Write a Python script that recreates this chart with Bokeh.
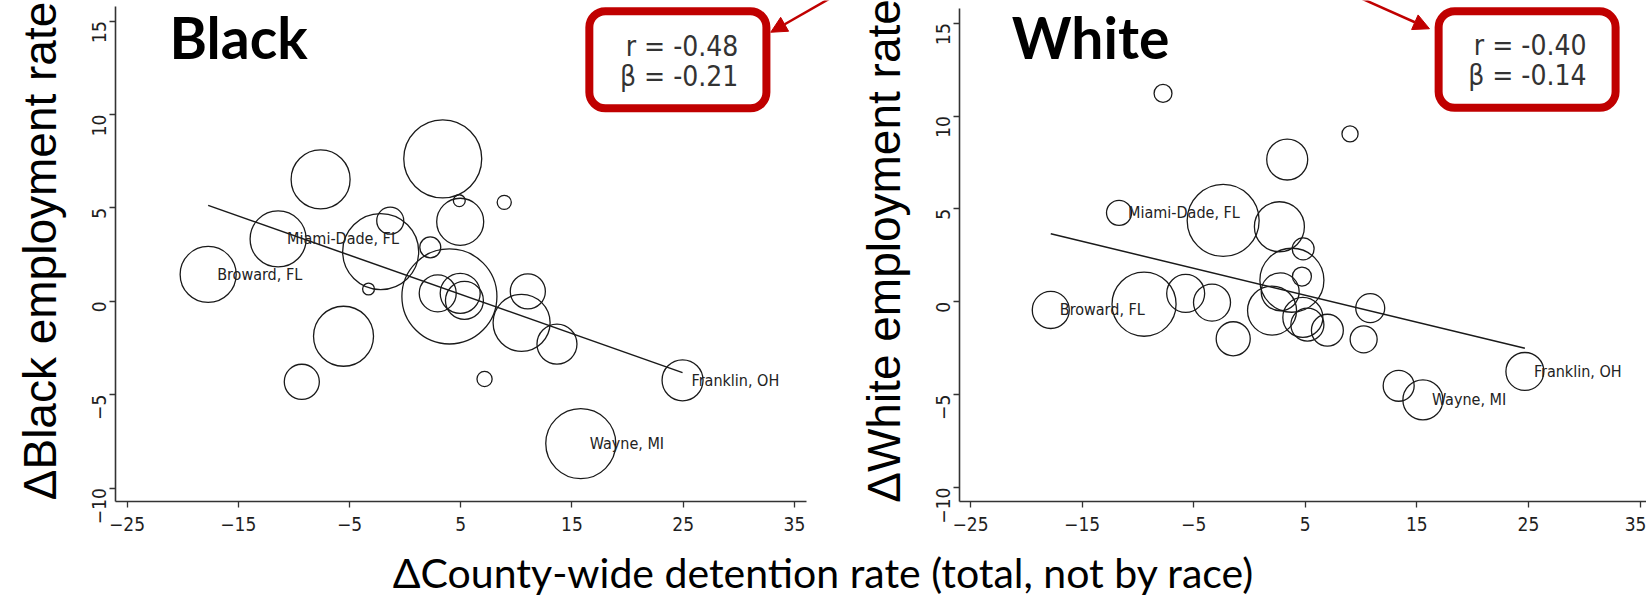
import numpy as np
from bokeh.plotting import figure
from bokeh.models import (ColumnDataSource, FixedTicker, Range1d, BoxAnnotation,
                          Label, Arrow, NormalHead)
from bokeh.layouts import row, column
from bokeh.embed import file_html
from bokeh.resources import INLINE
from bokeh.core.properties import value

# ---------------- data ----------------
black_x = [-17.71, -11.42, -9.29, -7.60, -5.54, -3.29, -2.20, -1.34, 2.26, 2.93, 3.38, 3.98,
           4.87, 4.95, 4.95, 5.33, 7.14, 8.91, 10.47, 11.03, 13.65, 15.79, 24.94]
black_y = [1.44, 3.34, -4.31, 6.53, -1.87, 0.66, 2.66, 4.32, 2.89, 0.43, 7.63, 0.26,
           5.39, 4.26, 0.43, 0.05, -4.16, 5.30, -1.15, 0.53, -2.29, -7.62, -4.23]
black_pop = [31.4, 31.4, 12.3, 34.8, 36.0, 1.4, 57.8, 7.3, 4.4, 13.7, 60.8, 90.3,
             1.4, 22.1, 16.0, 14.4, 2.3, 2.0, 32.5, 12.3, 16.0, 49.0, 16.8]
black_names = ["Broward, FL", "Miami-Dade, FL", "", "", "", "", "", "", "", "", "", "",
               "", "", "", "", "", "", "", "", "", "Wayne, MI", "Franklin, OH"]

white_x = [-17.81, -11.69, -9.45, -7.75, -5.72, -3.36, -2.36, -1.46, 2.02, 2.68, 2.75, 3.38,
           3.80, 4.70, 4.78, 4.81, 5.19, 6.98, 9.01, 10.23, 10.82, 13.37, 15.54, 24.68]
white_y = [-0.44, 4.79, -0.13, 11.22, 0.45, -0.04, 4.38, -1.99, -0.47, 4.04, 0.54, 7.66,
           1.16, 1.36, -0.84, 2.85, -1.23, -1.53, 9.04, -2.02, -0.34, -4.52, -5.28, -3.75]
white_pop = [13.7, 6.3, 41.0, 3.2, 14.4, 13.7, 51.8, 11.6, 24.0, 25.0, 14.4, 16.8,
             41.0, 3.6, 16.0, 4.8, 10.9, 10.2, 2.6, 7.3, 8.4, 9.6, 16.0, 14.4]
white_names = ["Broward, FL", "Miami-Dade, FL", "", "", "", "", "", "", "", "", "", "",
               "", "", "", "", "", "", "", "", "", "", "Wayne, MI", "Franklin, OH"]

x_ticks = [-25, -15, -5, 5, 15, 25, 35]
y_ticks = [-10, -5, 0, 5, 10, 15]

black_r, black_beta = -0.48, -0.21
black_fit = (1.42, -0.21)      # intercept, slope
white_r, white_beta = -0.40, -0.14
white_fit = (1.08, -0.145)

x_title = "\u0394County-wide detention rate (total, not by race)"

RED = "#C00000"
INK = "#1a1a1a"
NARROW = "DejaVu Sans Condensed, Liberation Sans, sans-serif"


def panel(xs, ys, pops, names, title, ylabel, r, beta, fit, width, b_left,
          b_bottom, xr, yr, xb, yb, title_pos, box, txt_x, txt_y, arrow):
    p = figure(width=width, height=545, output_backend="svg", toolbar_location=None,
               x_range=Range1d(*xr), y_range=Range1d(*yr),
               min_border_left=b_left, min_border_right=0,
               min_border_top=0, min_border_bottom=b_bottom)
    p.outline_line_color = None
    p.grid.visible = False
    p.background_fill_color = "white"
    p.border_fill_color = "white"

    for ax in (p.xaxis[0], p.yaxis[0]):
        ax.axis_line_color = "#333333"
        ax.axis_line_width = 1.6
        ax.major_tick_line_color = "#333333"
        ax.major_tick_line_width = 1.3
        ax.major_tick_out = 6
        ax.major_tick_in = 0
        ax.minor_tick_line_color = None
        ax.major_label_text_font = NARROW
        ax.major_label_text_font_size = "19px"
        ax.major_label_text_color = "#1e1e1e"
    p.xaxis.ticker = FixedTicker(ticks=x_ticks)
    p.yaxis.ticker = FixedTicker(ticks=y_ticks)
    p.xaxis.bounds = xb
    p.yaxis.bounds = yb
    p.xaxis.major_label_standoff = 9
    p.yaxis.major_label_standoff = 10
    p.yaxis.major_label_orientation = np.pi / 2
    p.yaxis.axis_label = ylabel
    p.yaxis.axis_label_text_font = "Liberation Sans"
    p.yaxis.axis_label_text_font_style = "normal"
    p.yaxis.axis_label_text_font_size = "46px"
    p.yaxis.axis_label_text_color = "black"
    p.yaxis.axis_label_standoff = 17

    sizes = [10 * np.sqrt(v) for v in pops]
    src = ColumnDataSource(dict(x=xs, y=ys, size=sizes, name=names))
    p.scatter("x", "y", size="size", marker="circle", source=src, fill_color=None,
              line_color=INK, line_width=1.3)

    x0, x1 = min(xs), max(xs)
    p.line([x0, x1], [fit[0] + fit[1] * x0, fit[0] + fit[1] * x1], line_color=INK,
           line_width=1.5)

    p.text("x", "y", text="name", source=src, x_offset=9, text_baseline="middle",
           text_align="left", text_font=value(NARROW), text_font_size=value("16px"),
           text_color="#222222")

    p.add_layout(Label(x=title_pos[0], y=title_pos[1], text=title, text_font="Lato",
                       text_font_style="bold", text_font_size="57px", text_color="black",
                       text_baseline="middle"))

    p.add_layout(BoxAnnotation(left=box[0], right=box[1], bottom=box[2], top=box[3],
                               fill_color="white", fill_alpha=1.0, line_color=RED,
                               line_width=8, line_alpha=1.0, border_radius=16))
    p.add_layout(Label(x=txt_x, y=txt_y[0], text=f"r = {r:.2f}", text_align="right",
                       text_baseline="middle", text_font=NARROW,
                       text_font_size="28px", text_color="#333333"))
    p.add_layout(Label(x=txt_x, y=txt_y[1], text=f"\u03b2 = {beta:.2f}", text_align="right",
                       text_baseline="middle", text_font=NARROW,
                       text_font_size="28px", text_color="#333333"))
    p.add_layout(Arrow(end=NormalHead(size=16, fill_color=RED, line_color=RED),
                       x_start=arrow[0], y_start=arrow[1], x_end=arrow[2], y_end=arrow[3],
                       line_color=RED, line_width=2.5))
    return p


left = panel(black_x, black_y, black_pop, black_names, "Black",
             "\u0394Black employment rate", black_r, black_beta, black_fit,
             width=850, b_left=115, b_bottom=44,
             xr=(-26.04, 40.04), yr=(-10.72, 16.11),
             xb=(-26.04, 36.05), yb=(-10.72, 15.79), title_pos=(-21.18, 14.14),
             box=(16.56, 32.48, 10.34, 15.54), txt_x=29.96, txt_y=(13.64, 12.06),
             arrow=(41.0, 17.18, 32.87, 14.41))

right = panel(white_x, white_y, white_pop, white_names, "White",
              "\u0394White employment rate", white_r, white_beta, white_fit,
              width=796, b_left=109, b_bottom=42,
              xr=(-25.99, 35.58), yr=(-10.75, 16.22),
              xb=(-25.99, 35.58), yb=(-10.75, 15.79), title_pos=(-21.3, 14.25),
              box=(16.95, 32.81, 10.44, 15.64), txt_x=30.2, txt_y=(13.8, 12.2),
              arrow=(6.43, 17.29, 16.13, 14.7))

bottom = figure(width=1646, height=60, output_backend="svg", toolbar_location=None,
                x_range=Range1d(0, 1), y_range=Range1d(0, 1), min_border=0)
bottom.axis.visible = False
bottom.grid.visible = False
bottom.outline_line_color = None
bottom.add_layout(Label(x=0.5, y=0.55, text=x_title, text_align="center",
                        text_baseline="middle", text_font="Lato",
                        text_font_size="41px", text_color="black"))

layout = column(row(left, right, spacing=0), bottom, spacing=0)

open("out.html", "w", encoding="utf-8").write(file_html(layout, INLINE))
